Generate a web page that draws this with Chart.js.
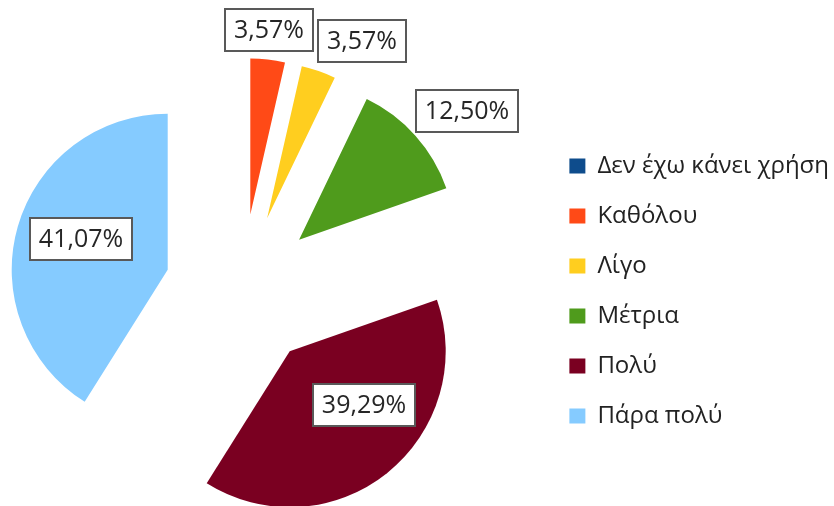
<!DOCTYPE html>
<html>
<head>
<meta charset="utf-8">
<script src="https://cdn.jsdelivr.net/npm/chart.js@4.4.0/dist/chart.umd.min.js"></script>
<style>
  html, body { margin: 0; padding: 0; background: #fff; }
  #wrap { width: 834px; height: 506px; }
</style>
</head>
<body>
<div id="wrap"><canvas id="usageChart"></canvas></div>
<script>
const categories = ['Δεν έχω κάνει χρήση', 'Καθόλου', 'Λίγο', 'Μέτρια', 'Πολύ', 'Πάρα πολύ'];
const shares = [0, 3.57, 3.57, 12.50, 39.29, 41.07];
const sliceColors = ['#0E4C8C', '#FF4A17', '#FFCE1F', '#4F9B1C', '#7A0021', '#85CBFF'];

// where the value boxes sit: distance from centre (in radii) and turn from slice middle (deg)
const labelDistance = [0, 1.68, 1.78, 1.85, 1.07, 1.08];
const labelTurn = [0, -0.4, 6.5, 3.2, -8.5, 1.8];

const RADIUS = 156;
const EXPLODE = 77;     // every slice pulled out from the centre
const LEGEND_GAP = 60;  // empty space between pie area and legend

function formatShare(v) {
  return v.toFixed(2).replace('.', ',') + '%';
}

Chart.defaults.font.family = '"Open Sans", "Noto Sans", sans-serif';

// blank layout box so the legend sits further right than the pie area
const legendGap = {
  id: 'legendGap',
  beforeInit(chart) {
    Chart.layouts.addBox(chart, {
      position: 'right',
      weight: 500,
      fullSize: false,
      options: { display: false },
      isHorizontal() { return false; },
      update(maxWidth, maxHeight) {
        this.width = LEGEND_GAP;
        this.height = maxHeight;
      },
      draw() {}
    });
  }
};

// explode the slices: move every arc out along its middle angle
const explodeSlices = {
  id: 'explodeSlices',
  afterDatasetsUpdate(chart) {
    chart.getDatasetMeta(0).data.forEach(arc => {
      const mid = (arc.startAngle + arc.endAngle) / 2;
      arc.x += Math.cos(mid) * EXPLODE;
      arc.y += Math.sin(mid) * EXPLODE;
    });
  }
};

const valueBoxes = {
  id: 'valueBoxes',
  afterDatasetsDraw(chart) {
    const ctx = chart.ctx;
    const area = chart.chartArea;
    const cx = (area.left + area.right) / 2;
    const cy = (area.top + area.bottom) / 2;
    const meta = chart.getDatasetMeta(0);
    ctx.save();
    ctx.font = '25px "Open Sans"';
    ctx.textAlign = 'center';
    ctx.textBaseline = 'middle';
    meta.data.forEach((arc, i) => {
      if (!shares[i]) return;
      const text = formatShare(shares[i]);
      const mid = (arc.startAngle + arc.endAngle) / 2 + labelTurn[i] * Math.PI / 180;
      const x = cx + Math.cos(mid) * RADIUS * labelDistance[i];
      const y = cy + Math.sin(mid) * RADIUS * labelDistance[i];
      const w = Math.round(ctx.measureText(text).width + 18);
      const h = 42;
      const left = Math.round(x - w / 2), top = Math.round(y - h / 2);
      ctx.fillStyle = '#ffffff';
      ctx.fillRect(left, top, w, h);
      ctx.strokeStyle = '#595959';
      ctx.lineWidth = 2;
      ctx.strokeRect(left, top, w, h);
      ctx.fillStyle = '#262626';
      ctx.fillText(text, left + w / 2, top + h / 2 + 1);
    });
    ctx.restore();
  }
};

new Chart(document.getElementById('usageChart'), {
  type: 'pie',
  data: {
    labels: categories,
    datasets: [{
      data: shares,
      backgroundColor: sliceColors,
      borderWidth: 0
    }]
  },
  options: {
    responsive: true,
    maintainAspectRatio: false,
    animation: false,
    events: [],
    radius: RADIUS,
    layout: { padding: { top: 76, left: 0, right: -5, bottom: 0 } },
    plugins: {
      legend: {
        position: 'right',
        labels: {
          boxWidth: 16,
          boxHeight: 15,
          padding: 26,
          color: '#222222',
          font: { size: 24 }
        }
      },
      tooltip: { enabled: false }
    }
  },
  plugins: [legendGap, explodeSlices, valueBoxes]
});
</script>
</body>
</html>
